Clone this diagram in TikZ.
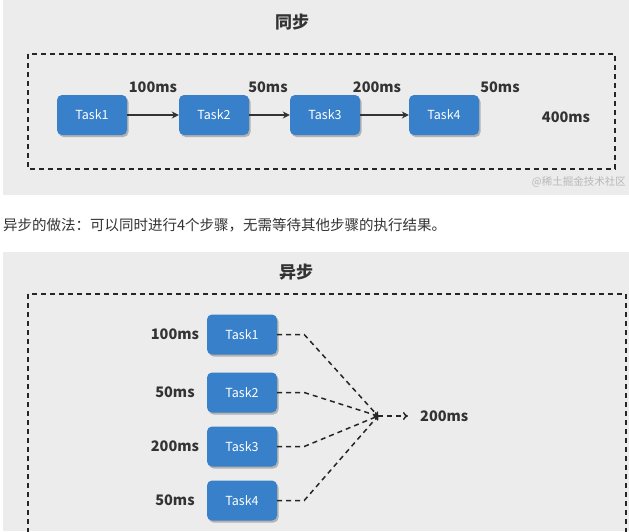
\documentclass[tikz,border=0pt]{standalone}
\usepackage{fontspec}
\setmainfont{Noto Sans CJK SC}
\usetikzlibrary{arrows.meta,positioning,shadows}
\definecolor{pannello}{HTML}{ECECEC}
\definecolor{blu}{HTML}{3880C9}
\definecolor{testo}{HTML}{333333}
\tikzset{
  task/.style={fill=blu,rounded corners=5pt,minimum width=70pt,minimum height=40pt,
    text=white,font=\fontsize{12.5}{12.5}\selectfont,
    drop shadow={shadow xshift=1.5pt,shadow yshift=-2pt,fill=black!30,opacity=1}},
  tempo/.style={text=testo,font=\bfseries\fontsize{14.5}{15}\selectfont,inner sep=2pt},
  titolo/.style={text=testo,font=\bfseries\fontsize{17}{17}\selectfont},
  cornice/.style={draw=black!85,line width=1.6pt,dash pattern=on 5pt off 4pt},
  freccia/.style={draw=testo,line width=1.3pt,-{Stealth[length=7pt,width=7pt]}},
  tratto/.style={draw=black!85,line width=1.5pt,dash pattern=on 5pt off 4pt,
    -{>[length=4pt,width=6pt]}}
}
\begin{document}
\begin{tikzpicture}[x=1pt,y=-1pt]
        \useasboundingbox (0,0) rectangle (629,531);
        \clip (0,0) rectangle (629,531);
        %sfondi
        \fill[pannello] (3,0) rectangle (629,195);
        \fill[pannello] (3,252) rectangle (629,531);
        %sincrono
        \node[titolo] (tsinc) at (292,22) {同步};
        \draw[cornice] (28,54) rectangle (615,169);
        \node[task] (s1) at (92,115) {Task1};
        \node[task] (s2) at (214,115) {Task2};
        \node[task] (s3) at (325,115) {Task3};
        \node[task] (s4) at (444,115) {Task4};
        \draw[freccia] (s1) -- (s2);
        \draw[freccia] (s2) -- (s3);
        \draw[freccia] (s3) -- (s4);
        \node[tempo] (d1) at (153,87) {100ms};
        \node[tempo] (d2) at (268,87) {50ms};
        \node[tempo] (d3) at (377,87) {200ms};
        \node[tempo] (d4) at (500,87) {50ms};
        \node[tempo] (tot) at (566,117) {400ms};
        \node[anchor=east,text=black!28,font=\fontsize{10.5}{11}\selectfont,inner sep=0]
          (marca) at (626,182) {@稀土掘金技术社区};
        %testo
        \node[anchor=west,text=testo,font=\fontsize{14.5}{15}\selectfont,inner sep=0]
          (frase) at (3,225) {异步的做法：可以同时进行4个步骤，无需等待其他步骤的执行结果。};
        %asincrono
        \node[titolo] (tasinc) at (296,272) {异步};
        \draw[cornice] (28,294) rectangle (626,560);
        \node[task] (a1) at (242,334.5) {Task1};
        \node[task] (a2) at (242,392.5) {Task2};
        \node[task] (a3) at (242,446.5) {Task3};
        \node[task] (a4) at (242,500.5) {Task4};
        \node[tempo] (e1) at (175,334.5) {100ms};
        \node[tempo] (e2) at (175,392.5) {50ms};
        \node[tempo] (e3) at (175,446.5) {200ms};
        \node[tempo] (e4) at (175,500.5) {50ms};
        \coordinate (unione) at (378,416);
        \node[tempo,anchor=west] (ris) at (418,416) {200ms};
        \foreach \i in {1,...,4}
          \draw[tratto] (a\i.east) -- ++(27,0) -- (unione);
        \draw[tratto,-{>[length=5pt,width=8pt]}] (unione) -- ([xshift=-10pt]ris.west);
\end{tikzpicture}
\end{document}
